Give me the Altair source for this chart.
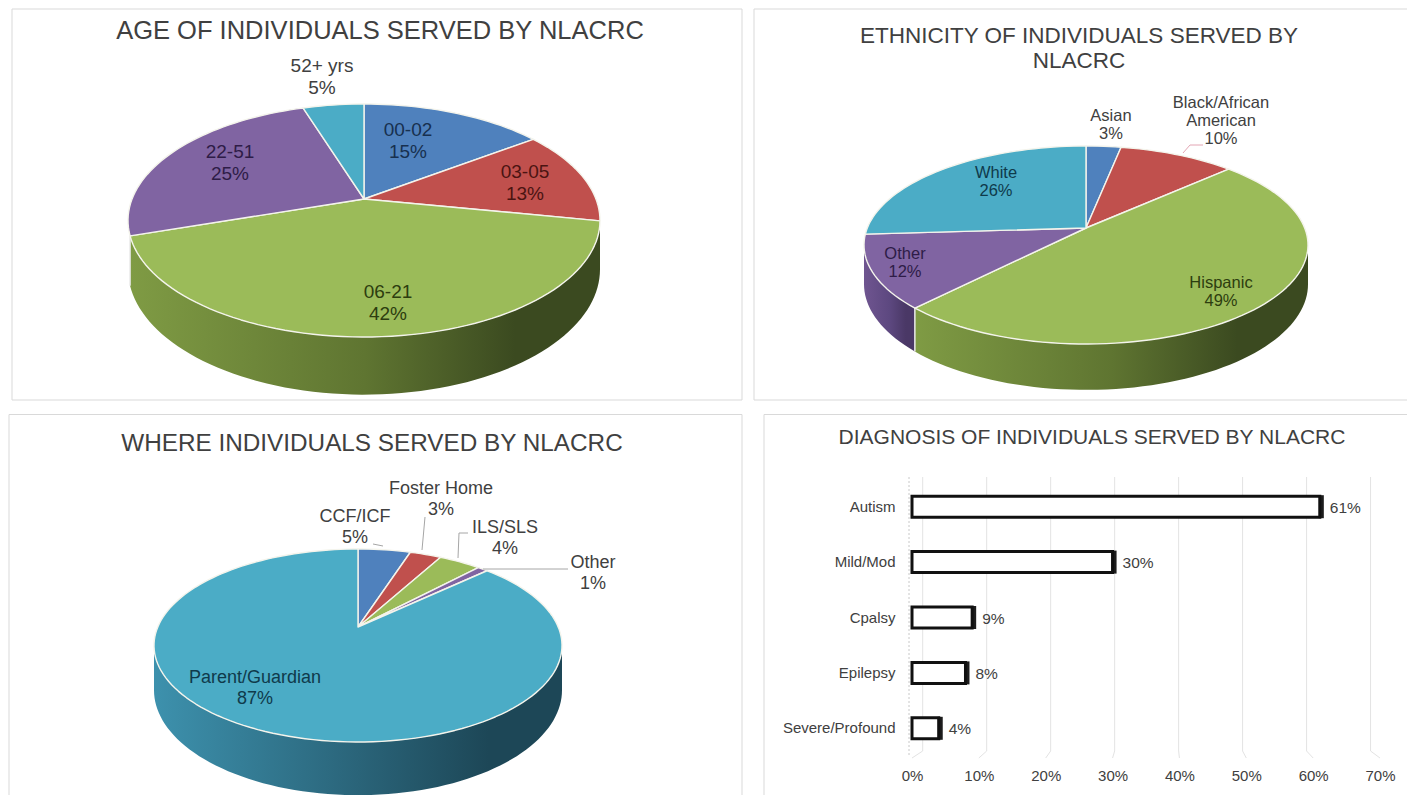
import math
import altair as alt
import pandas as pd

# ---------- data ----------
age_names = ["00-02", "03-05", "06-21", "22-51", "52+ yrs"]
age_values = [15, 13, 42, 25, 5]
eth_names = ["Asian", "Black/African\nAmerican", "Hispanic", "Other", "White"]
eth_values = [3, 10, 49, 12, 26]
home_names = ["CCF/ICF", "Foster Home", "ILS/SLS", "Other", "Parent/Guardian"]
home_values = [5, 3, 4, 1, 87]
diag_names = ["Autism", "Mild/Mod", "Cpalsy", "Epilepsy", "Severe/Profound"]
diag_values = [0.61, 0.30, 0.09, 0.08, 0.04]
axis_ticks = [0, 0.1, 0.2, 0.3, 0.4, 0.5, 0.6, 0.7]

# ---------- styling / layout ----------
FONT = "Liberation Sans"
BLUE, RED, GREEN, PURPLE, TEAL = "#4f81bd", "#c0504d", "#9bbb59", "#8064a2", "#4bacc6"
slice_colors = [BLUE, RED, GREEN, PURPLE, TEAL]
wall_stops = {
    GREEN: ["#7f9b44", "#5f7531", "#3b4a20"],
    PURPLE: ["#6f5590", "#5d4880", "#4a3866"],
    TEAL: ["#3d91ad", "#2a6479", "#1d4757"],
}
DARK = {BLUE: "#17304f", RED: "#4b1412", GREEN: "#2d3d0f", PURPLE: "#2e1c47", TEAL: "#0f3a4b"}
GREY = "#404040"

LEFT_W, RIGHT_W, TOP_H, BOT_H = 744, 656, 406, 365

X = alt.X("x:Q", axis=None)
Y = alt.Y("y:Q", axis=None)


def poly(df, fill, stroke):
    kw = {"stroke": stroke, "strokeWidth": 1.4} if stroke else {"strokeWidth": 0}
    return alt.Chart(df).mark_line(interpolate="linear-closed", fill=fill, strokeJoin="round", **kw).encode(
        x=X, y=Y, order=alt.Order("i:Q"))


def pie_layers(values, colors, cx, cy, rx, top, bottom, depth):
    """Draw a tilted pie: values are turned into angles, then projected in perspective."""
    ratio = bottom / top
    p = (ratio - 1) / (ratio + 1)
    b = top * (1 + p)
    a = rx * math.sqrt(1 - p * p)

    def proj(theta, drop=0.0):
        u, v = math.sin(theta), math.cos(theta)
        den = 1 + p * v
        return cx + a * u / den, cy - b * v / den + drop / den

    def arc_pts(t0, t1, drop=0.0):
        n = max(2, int(abs(t1 - t0) / math.radians(2)) + 2)
        return [proj(t0 + (t1 - t0) * k / (n - 1), drop) for k in range(n)]

    def frame(pts):
        return pd.DataFrame([{"x": x, "y": y, "i": i} for i, (x, y) in enumerate(pts)])

    vis0 = math.acos(-p)
    vis1 = 2 * math.pi - vis0
    layers, edges, spans = [], [], []
    acc = 0
    for val, col in zip(values, colors):
        t0 = 2 * math.pi * acc / 100
        acc += val
        t1 = 2 * math.pi * acc / 100
        spans.append((t0, t1, col))
        s0, s1 = max(t0, vis0), min(t1, vis1)
        if s1 - s0 > math.radians(10):
            stops = wall_stops[col]
            grad = alt.LinearGradient(
                gradient="linear", x1=0, x2=1, y1=0, y2=0,
                stops=[alt.GradientStop(color=stops[0], offset=0),
                       alt.GradientStop(color=stops[1], offset=0.5),
                       alt.GradientStop(color=stops[2], offset=0.82),
                       alt.GradientStop(color=stops[2], offset=1)],
            )
            layers.append(poly(frame(arc_pts(s0, s1) + arc_pts(s1, s0, depth)), grad, None))
            if vis0 + 0.01 < t1 < vis1 - 0.01:
                edges.append(t1)
    for t in edges:
        layers.append(alt.Chart(frame([proj(t), proj(t, depth)])).mark_line(
            stroke="#e8e8e8", strokeWidth=1.5).encode(x=X, y=Y, order=alt.Order("i:Q")))
    for t0, t1, col in spans:
        layers.append(poly(frame([(cx, cy)] + arc_pts(t0, t1)), col, "#f4f4ec"))
    return layers


def texts(rows, size, line_height):
    df = pd.DataFrame(rows, columns=["t", "x", "y", "c"])
    return alt.Chart(df).mark_text(font=FONT, fontSize=size, lineBreak="\n", lineHeight=line_height,
                                   align="center", baseline="middle").encode(
        x=X, y=Y, text="t:N", color=alt.Color("c:N", scale=None))


def leader(points, color):
    df = pd.DataFrame([{"x": x, "y": y, "i": i} for i, (x, y) in enumerate(points)])
    return alt.Chart(df).mark_line(stroke=color, strokeWidth=1).encode(x=X, y=Y, order=alt.Order("i:Q"))


def border(segments):
    df = pd.DataFrame([{"x": 0}])
    return [alt.Chart(df).mark_rule(stroke="#d9d9d9", strokeWidth=1).encode(
        x=alt.value(x0), x2=alt.value(x1), y=alt.value(y0), y2=alt.value(y1))
        for (x0, y0, x1, y1) in segments]


def build(x0, y0, w, h, make):
    global X, Y
    X = alt.X("x:Q", axis=None, scale=alt.Scale(domain=[x0, x0 + w], nice=False, zero=False))
    Y = alt.Y("y:Q", axis=None, scale=alt.Scale(domain=[y0 + h, y0], nice=False, zero=False))
    return alt.layer(*make()).properties(width=w, height=h)


def age_panel():
    ls = border([(4, 1, 734, 1), (4, 392, 734, 392), (4, 1, 4, 392), (734, 1, 734, 392)])
    ls += pie_layers(age_values, slice_colors, 364, 199, 236, 95, 138, 47)
    ls.append(texts([("AGE OF INDIVIDUALS SERVED BY NLACRC", 380, 31, GREY)], 25.5, 28))
    ls.append(texts([
        (f"{age_names[0]}\n{age_values[0]}%", 408, 130, DARK[BLUE]),
        (f"{age_names[1]}\n{age_values[1]}%", 525, 172, DARK[RED]),
        (f"{age_names[2]}\n{age_values[2]}%", 388, 292, DARK[GREEN]),
        (f"{age_names[3]}\n{age_values[3]}%", 230, 152, DARK[PURPLE]),
        (f"{age_names[4]}\n{age_values[4]}%", 322, 66, GREY),
    ], 19, 22))
    return ls


def eth_panel():
    ls = border([(2, 1, 655, 1), (2, 392, 655, 392), (2, 1, 2, 392)])
    ls += pie_layers(eth_values, slice_colors, 1086, 228, 222, 82, 116, 38)
    ls.append(leader([(1183, 153), (1190, 145), (1203, 145)], "#e3a6b4"))
    ls.append(texts([("ETHNICITY  OF INDIVIDUALS SERVED BY\nNLACRC", 1079, 36, GREY)], 22.5, 25))
    ls.append(texts([
        (f"{eth_names[0]}\n{eth_values[0]}%", 1111, 116, GREY),
        (f"{eth_names[1]}\n{eth_values[1]}%", 1221, 103, GREY),
        (f"{eth_names[2]}\n{eth_values[2]}%", 1221, 283, DARK[GREEN]),
        (f"{eth_names[3]}\n{eth_values[3]}%", 905, 254, DARK[PURPLE]),
        (f"{eth_names[4]}\n{eth_values[4]}%", 996, 173, DARK[TEAL]),
    ], 16.5, 18))
    return ls


def home_panel():
    ls = border([(1, 0.5, 734, 0.5), (1, 0.5, 1, 381), (734, 0.5, 734, 381)])
    ls += pie_layers(home_values, slice_colors, 358, 627, 204, 78, 115, 43)
    ls.append(leader([(373, 544), (383, 546)], "#a6a6a6"))
    ls.append(leader([(422, 550), (425, 517)], "#a6a6a6"))
    ls.append(leader([(458, 558), (459, 533), (468, 533)], "#a6a6a6"))
    ls.append(leader([(483, 569), (568, 569)], "#a6a6a6"))
    ls.append(texts([("WHERE INDIVIDUALS SERVED BY NLACRC", 372, 444, GREY)], 24.3, 26))
    ls.append(texts([
        (f"{home_names[0]}\n{home_values[0]}%", 355, 517, GREY),
        (f"{home_names[1]}\n{home_values[1]}%", 441, 489, GREY),
        (f"{home_names[2]}\n{home_values[2]}%", 505, 528, GREY),
        (f"{home_names[3]}\n{home_values[3]}%", 593, 563, GREY),
        (f"{home_names[4]}\n{home_values[4]}%", 255, 678, DARK[TEAL]),
    ], 18, 21))
    return ls


pie_age = build(8, 8, LEFT_W, TOP_H, age_panel)
pie_eth = build(752, 8, RIGHT_W, TOP_H, eth_panel)
pie_home = build(8, 414, LEFT_W, BOT_H, home_panel)

# ---------- bar panel ----------
bars = pd.DataFrame({"name": diag_names, "value": diag_values,
                     "label": [f"{round(v * 100)}%" for v in diag_values]})
grid = pd.DataFrame({"tick": axis_ticks, "back": [0.016 + t * 0.957 for t in axis_ticks]})
xs = alt.Scale(domain=[0, 0.7], range=[160, 628], nice=False, zero=False)
ys = alt.Scale(domain=diag_names, range=[65, 342], paddingInner=0.6, paddingOuter=0.3)
x_axis = alt.Axis(values=axis_ticks, format=".0%", grid=False, domain=False, ticks=False, labelFlush=False,
                  labelFont=FONT, labelFontSize=15, labelColor=GREY, labelPadding=0, offset=-11)
y_axis = alt.Axis(grid=False, domain=False, ticks=False, labelFont=FONT, labelFontSize=15,
                  labelColor=GREY, labelPadding=17, offset=-160)
bar_x = alt.X("value:Q", scale=xs, axis=x_axis, title=None)
bar_y = alt.Y("name:N", scale=ys, sort=diag_names, axis=y_axis, title=None)

bar_layers = border([(12, 0.5, 655, 0.5), (12, 0.5, 12, 381)])
bar_layers.append(alt.Chart(pd.DataFrame({"t": ["DIAGNOSIS OF INDIVIDUALS SERVED BY NLACRC"]})).mark_text(
    font=FONT, fontSize=21, color=GREY, align="center", baseline="middle").encode(
    x=alt.value(340), y=alt.value(24), text="t:N"))
bar_layers.append(alt.Chart(grid).mark_rule(stroke="#e3e3e3").encode(
    x=alt.X("back:Q", scale=xs, axis=x_axis, title=None), y=alt.value(63), y2=alt.value(337)))
bar_layers.append(alt.Chart(grid).mark_rule(stroke="#e3e3e3").encode(
    x=alt.X("back:Q", scale=xs, axis=x_axis, title=None), x2="tick:Q", y=alt.value(337), y2=alt.value(344)))
bar_layers.append(alt.Chart(pd.DataFrame({"x": [0]})).mark_rule(stroke="#c8c8c8", strokeDash=[2, 2]).encode(
    x=alt.value(157), y=alt.value(63), y2=alt.value(341)))
bar_layers.append(alt.Chart(bars).mark_bar(
    fill="white", stroke="#111111", strokeWidth=3, size=21).encode(
    x=bar_x, x2=alt.value(160), y=bar_y))
bar_layers.append(alt.Chart(bars).mark_tick(
    color="#111111", thickness=5, size=23, xOffset=1.5, opacity=0.95).encode(x=bar_x, y=bar_y))
bar_layers.append(alt.Chart(bars).mark_text(
    font=FONT, fontSize=15.5, color=GREY, align="left", baseline="middle", dx=10, dy=1).encode(
    x=bar_x, y=bar_y, text="label:N"))
bar_panel = alt.layer(*bar_layers).properties(width=RIGHT_W, height=BOT_H)

chart = alt.vconcat(
    alt.hconcat(pie_age, pie_eth, spacing=0),
    alt.hconcat(pie_home, bar_panel, spacing=0),
    spacing=0,
).properties(padding=0, background="white").configure_view(stroke=None)

chart.save("out.html", embed_options={"renderer": "svg", "actions": False})
